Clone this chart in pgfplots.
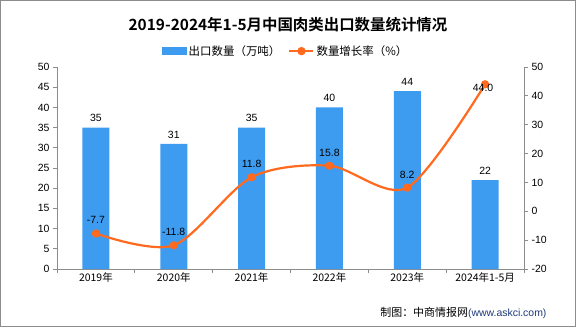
\documentclass[border=0pt]{standalone}
\usepackage{fontspec}
\usepackage{pgfplots}
\pgfplotsset{compat=1.18}
\setmainfont{Noto Sans CJK SC}
\newfontfamily\titlefont{Noto Sans CJK SC Bold}
\newfontfamily\numfont{Liberation Sans}
\definecolor{barblue}{HTML}{3E9CF0}
\definecolor{lineorange}{HTML}{FF6A1F}
\definecolor{axisgray}{HTML}{8C8C8C}
\definecolor{srcblue}{HTML}{1F3A7A}
\begin{document}
\begin{tikzpicture}[x=1bp,y=1bp]
\draw[axisgray, line width=0.8bp, fill=white] (0.4,0.4) rectangle (575.6,326.6);
\useasboundingbox (0,0) rectangle (576,327);
\node[font=\titlefont\fontsize{15.5}{17}\selectfont] at (288,302) {2019-2024年1-5月中国肉类出口数量统计情况};
\node[anchor=east, font=\fontsize{11}{13}\selectfont] at (550,14) {制图：中商情报网{\numfont\fontsize{10.5}{12}\selectfont\color{srcblue}(www.askci.com)}};
\begin{axis}[
  at={(57bp,58bp)}, anchor=south west,
  scale only axis, width=467bp, height=202bp,
  xmin=-0.5, xmax=5.5, ymin=0, ymax=50,
  axis x line*=bottom, axis y line*=left,
  axis line style={axisgray, line width=0.8bp},
  tick style={axisgray, line width=0.8bp},
  tick align=outside, major tick length=4bp,
  ytick={0,5,...,50},
  xtick={-0.5,0.5,...,5.5}, xticklabels={},
  extra x ticks={0,1,2,3,4,5},
  extra x tick labels={2019年,2020年,2021年,2022年,2023年,2024年1-5月},
  extra x tick style={major tick length=0pt, tick style={draw=none}},
  ticklabel style={font=\fontsize{10.5}{12}\selectfont},
  /pgf/number format/assume math mode=true,
  yticklabel style={font=\numfont\fontsize{10.5}{12}\selectfont},
  clip=false,
]
\addplot[ybar, bar width=27bp, fill=barblue, draw=none,
  nodes near coords, every node near coord/.append style={font=\numfont\fontsize{10.5}{12}\selectfont, text=black, yshift=2bp}]
  coordinates {(0,35) (1,31) (2,35) (3,40) (4,44) (5,22)};
\end{axis}
\begin{axis}[
  at={(57bp,58bp)}, anchor=south west,
  scale only axis, width=467bp, height=202bp,
  xmin=-0.5, xmax=5.5, ymin=-20, ymax=50,
  axis x line=none, axis y line*=right,
  axis line style={axisgray, line width=0.8bp},
  tick style={axisgray, line width=0.8bp},
  tick align=outside, major tick length=4bp,
  ytick={-20,-10,...,50},
  /pgf/number format/assume math mode=true,
  yticklabel style={font=\numfont\fontsize{10.5}{12}\selectfont},
  clip=false,
  legend style={at={(0.49,1.03)}, anchor=south, draw=none, fill=none,
    legend columns=2, font=\fontsize{11.5}{13}\selectfont,
    /tikz/every even column/.append style={column sep=6bp}},
  legend cell align=left,
]
\addlegendimage{legend image code/.code={\fill[barblue] (0bp,-3.5bp) rectangle (24bp,4bp);}}
\addlegendentry{出口数量（万吨）}
\addplot[lineorange, line width=2.2bp, smooth, mark=*, mark size=3bp,
  mark options={fill=lineorange, draw=lineorange},
  legend image code/.code={\draw[lineorange, line width=2.2bp] (0bp,0bp) -- (24bp,0bp); \fill[lineorange] (12bp,0bp) circle (3bp);}]
  coordinates {(0,-7.7) (1,-11.8) (2,11.8) (3,15.8) (4,8.2) (5,44.0)};
\addlegendentry{数量增长率（\%）}
\addplot[draw=none, mark=none, forget plot,
  nodes near coords={\pgfmathprintnumber[fixed, fixed zerofill, precision=1]{\pgfplotspointmeta}},
  every node near coord/.append style={font=\numfont\fontsize{10.5}{12}\selectfont, text=black, anchor=south, yshift=6bp}]
  coordinates {(0,-7.7) (1,-11.8) (2,11.8) (3,15.8) (4,8.2)};
\addplot[draw=none, mark=none, forget plot,
  nodes near coords={\pgfmathprintnumber[fixed, fixed zerofill, precision=1]{\pgfplotspointmeta}},
  every node near coord/.append style={font=\numfont\fontsize{10.5}{12}\selectfont, text=black, anchor=north, yshift=4bp, xshift=-2bp}]
  coordinates {(5,44.0)};
\end{axis}
\end{tikzpicture}
\end{document}
